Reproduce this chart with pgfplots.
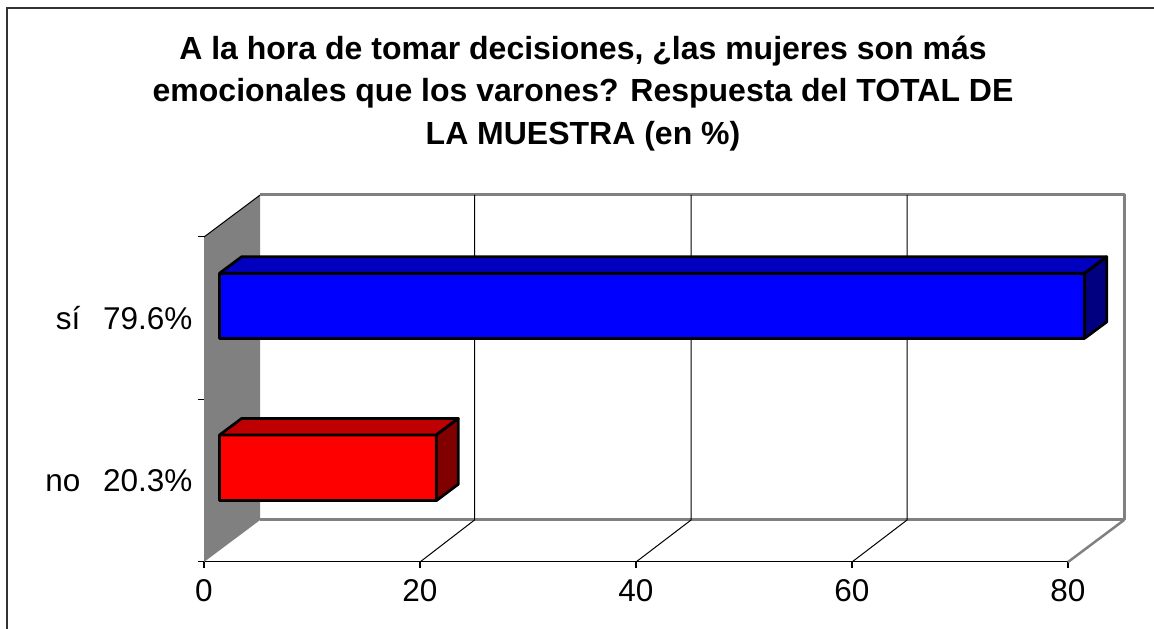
\documentclass[border=0pt]{standalone}
\usepackage{fontspec}
\setmainfont{Liberation Sans}
\usepackage{pgfplots}
\pgfplotsset{compat=1.18}
\definecolor{wallgray}{RGB}{128,128,128}
\definecolor{bluefront}{RGB}{0,0,255}
\definecolor{bluetop}{RGB}{0,0,190}
\definecolor{blueside}{RGB}{0,0,128}
\definecolor{redfront}{RGB}{255,0,0}
\definecolor{redtop}{RGB}{190,0,0}
\definecolor{redside}{RGB}{128,0,0}

\begin{document}
\begin{tikzpicture}[x=1pt,y=1pt]
\useasboundingbox (0,0) rectangle (1154,629);
% chart frame, open at the bottom and on the right like the reference crop
\draw[black!80,line width=1.3pt] (7,0) -- (7,621) -- (1154,621);
\begin{axis}[
  at={(204pt,67pt)}, anchor=south west,
  scale only axis, width=864pt, height=325pt,
  xmin=0, xmax=80,
  ymin=-0.5, ymax=1.5,
  axis lines*=left,
  clip=false,
  axis line style={black,line width=1pt},
  xtick={0,20,40,60,80},
  ytick={0,1},
  yticklabels={no\ \ \,20.3\%,sí\ \ \,79.6\%},
  ytick style={draw=none},
  extra y ticks={-0.5,0.5,1.5},
  extra y tick labels={},
  extra y tick style={ytick style={draw=black,line width=1pt}},
  tick align=outside,
  major tick length=6pt,
  xtick style={draw=black,line width=1.5pt},
  tick label style={font=\fontsize{31.5}{34}\selectfont},
  /pgf/number format/assume math mode=true,
  xticklabel style={yshift=-8pt},
  yticklabel style={xshift=-2pt},
  title={A la hora de tomar decisiones, ¿las mujeres son más\\emocionales que los varones? Respuesta del TOTAL DE\\LA MUESTRA (en \%)},
  title style={at={(0.4387,1.423)},anchor=center,align=center,
    font=\fontsize{32}{42.5}\selectfont\bfseries},
]
% side wall
\addplot[fill=wallgray,draw=none] coordinates {(0,-0.5) (5.2,-0.2415) (5.2,1.7585) (0,1.5)} -- cycle;
\addplot[black,line width=1pt] coordinates {(0,1.5) (5.2,1.7585)};
% back wall and floor edge
\addplot[wallgray,line width=3pt,line join=round] coordinates {(5.2,1.7585) (85.2,1.7585) (85.2,-0.2415) (5.2,-0.2415)};
\addplot[wallgray,line width=2.5pt] coordinates {(85.2,-0.2415) (80,-0.5)};
% gridlines on the back wall and the floor
\addplot[black,line width=1pt] coordinates {(20,-0.5) (25.05,-0.2415) (25.05,1.7585)};
\addplot[black,line width=1pt] coordinates {(40,-0.5) (45.1,-0.2415) (45.1,1.7585)};
\addplot[black,line width=1pt] coordinates {(60,-0.5) (65.1,-0.2415) (65.1,1.7585)};
% si bar
\addplot[fill=bluefront,draw=black,line width=2.8pt,line join=round] coordinates {(1.44,0.877) (81.55,0.877) (81.55,1.277) (1.44,1.277)} -- cycle;
\addplot[fill=bluetop,draw=black,line width=2.8pt,line join=round] coordinates {(1.44,1.277) (81.55,1.277) (83.59,1.378) (3.48,1.378)} -- cycle;
\addplot[fill=blueside,draw=black,line width=2.8pt,line join=round] coordinates {(81.55,0.877) (83.59,0.978) (83.59,1.378) (81.55,1.277)} -- cycle;
% no bar
\addplot[fill=redfront,draw=black,line width=2.8pt,line join=round] coordinates {(1.44,-0.123) (21.5,-0.123) (21.5,0.2815) (1.44,0.2815)} -- cycle;
\addplot[fill=redtop,draw=black,line width=2.8pt,line join=round] coordinates {(1.44,0.2815) (21.5,0.2815) (23.54,0.383) (3.48,0.383)} -- cycle;
\addplot[fill=redside,draw=black,line width=2.8pt,line join=round] coordinates {(21.5,-0.123) (23.54,-0.0215) (23.54,0.383) (21.5,0.2815)} -- cycle;
\end{axis}
\end{tikzpicture}
\end{document}
